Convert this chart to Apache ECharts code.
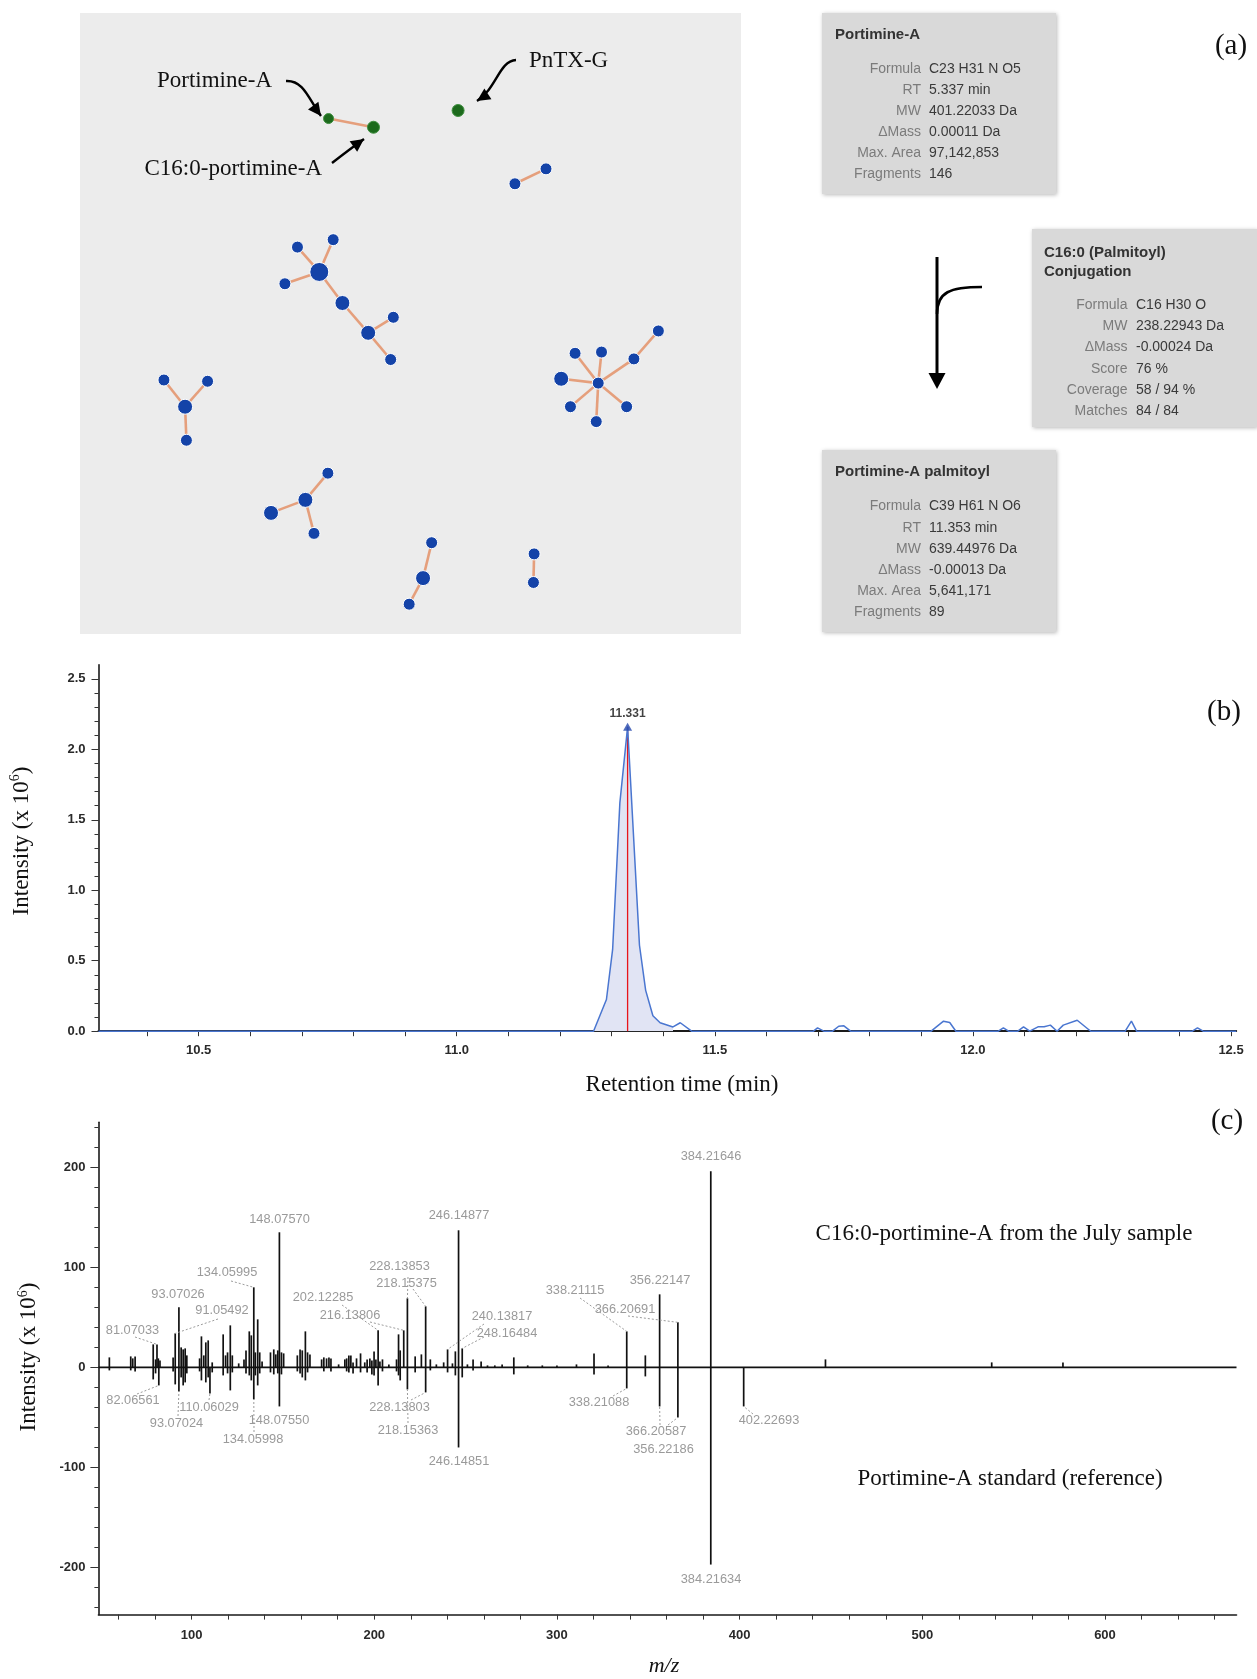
<!DOCTYPE html>
<html>
<head>
<meta charset="utf-8">
<script src="https://cdn.jsdelivr.net/npm/echarts@6.0.0/dist/echarts.min.js"></script>
<style>
html,body{margin:0;padding:0;background:#ffffff;}
#chart{width:1257px;height:1679px;}
</style>
</head>
<body>
<div id="chart"></div>
<script>
// ================= DATA =================
// ---- Panel (a): molecular network (layout units 0-100) ----
const nodeNames = ['Portimine-A','C16:0-portimine-A','PnTX-G','n3','n4','n5','n6','n7','n8','n9','n10','n11','n12','n13','n14','n15','n16','n17','n18','n19','n20','n21','n22','n23','n24','n25','n26','n27','n28','n29','n30','n31','n32','n33','n34'];
const nodeX = [37.6,44.4,57.2,65.8,70.5,36.2,32.9,38.3,31.0,39.7,43.6,47.4,47.0,15.9,12.7,19.3,16.1,78.4,74.9,78.9,72.8,74.2,78.1,82.7,83.8,87.5,34.1,37.5,28.9,35.4,51.9,53.2,49.8,68.7,68.6];
const nodeY = [17.0,18.4,15.7,27.5,25.1,41.7,37.7,36.5,43.6,46.7,51.5,49.0,55.8,63.4,59.1,59.3,68.8,59.6,54.8,54.6,58.9,63.4,65.8,63.4,55.7,51.2,78.4,74.1,80.5,83.8,91.0,85.3,95.2,87.1,91.7];
const nodeWeight = [0,1,1,1,1,3,1,1,1,2,2,1,1,2,1,1,1,1,1,1,2,1,1,1,1,1,2,1,2,1,2,1,1,1,1];
const nodeClass = ['toxin','toxin','toxin'].concat(new Array(32).fill('other'));
const edgePairs = [[0,1],[3,4],[5,6],[5,7],[5,8],[5,9],[9,10],[10,11],[10,12],[13,14],[13,15],[13,16],[17,18],[17,19],[17,20],[17,21],[17,22],[17,23],[17,24],[24,25],[26,27],[26,28],[26,29],[30,31],[30,32],[33,34]];

const boxATitle = ['Portimine-A'];
const boxAKeys = ['Formula','RT','MW','\u0394Mass','Max. Area','Fragments'];
const boxAVals = ['C23 H31 N O5','5.337 min','401.22033 Da','0.00011 Da','97,142,853','146'];
const boxBTitle = ['C16:0 (Palmitoyl)','Conjugation'];
const boxBKeys = ['Formula','MW','\u0394Mass','Score','Coverage','Matches'];
const boxBVals = ['C16 H30 O','238.22943 Da','-0.00024 Da','76 %','58 / 94 %','84 / 84'];
const boxCTitle = ['Portimine-A palmitoyl'];
const boxCKeys = ['Formula','RT','MW','\u0394Mass','Max. Area','Fragments'];
const boxCVals = ['C39 H61 N O6','11.353 min','639.44976 Da','-0.00013 Da','5,641,171','89'];

// ---- Panel (b): extracted ion chromatogram ----
const rtMin = [10.306,11.265,11.290,11.302,11.316,11.331,11.354,11.366,11.380,11.394,11.419,11.433,11.455,11.691,11.699,11.711,11.728,11.740,11.750,11.763,11.919,11.943,11.955,11.967,12.049,12.059,12.069,12.087,12.098,12.110,12.126,12.138,12.150,12.163,12.175,12.202,12.224,12.228,12.295,12.307,12.317,12.425,12.435,12.446,12.51];
const rtIntensity = [0,0,0.225,0.58,1.62,2.16,0.61,0.29,0.11,0.06,0.03,0.06,0,0,0.024,0,0,0.035,0.038,0,0,0.071,0.062,0,0,0.024,0,0,0.031,0,0.031,0.031,0.043,0,0.043,0.078,0.012,0,0,0.071,0,0,0.024,0,0];
const peakStart = 11.265, peakEnd = 11.419;
const apexRT = 11.331, apexIntensity = 2.16;
const rtTickLabels = [10.5,11.0,11.5,12.0,12.5];
const chromYTickLabels = [0,0.5,1.0,1.5,2.0,2.5];

// ---- Panel (c): mirror MS/MS spectrum ----
const sampleMz = [55.0,66.7,67.8,69.1,79.0,80.3,81.07,81.8,82.7,89.9,91.05,93.07,94.3,95.4,96.5,97.4,104.4,105.4,106.7,107.8,109.1,111.3,117.3,118.6,119.7,121.2,122.3,125.8,128.7,129.8,131.6,132.7,134.06,134.9,136.2,137.3,138.6,143.2,145.0,146.1,147.2,148.08,149.2,150.4,157.9,159.4,160.6,162.3,163.5,164.8,171.2,172.4,173.9,175.2,176.3,180.5,183.9,184.9,186.1,187.2,188.4,190.3,192.5,194.8,196.1,197.6,198.7,199.9,200.9,202.12,203.1,204.5,208.0,212.2,213.3,214.2,216.14,218.15,222.4,225.8,228.14,230.7,234.0,238.0,240.14,242.8,244.4,246.15,248.16,251.0,254.1,258.5,262.0,266.0,270.0,276.4,284.0,292.0,300.0,310.7,320.3,328.0,338.21,348.4,356.22,366.21,384.22,447.0,538.0,577.0];
const sampleInt = [10,11,9,11,23,8,23,9,7,10,34,60,20,18,19,12,9,31,12,25,27,5,33,12,15,42,12,4,8,17,36,32,80,15,48,15,6,15,18,13,17,135,15,14,12,18,17,36,15,13,8,10,9,10,9,3,8,9,12,12,5,9,14,5,8,9,7,16,8,37,6,8,3,8,33,17,37,69,11,13,61,8,3,5,18,4,16,137,19,3,8,6,2,2,3,10,2,2,2,3,14,2,36,12,73,45,196,8,5,5];
const refMz = [55.0,66.7,69.1,79.0,80.3,82.07,89.9,91.05,93.07,94.3,95.4,96.5,97.4,104.4,105.4,107.8,109.1,110.06,111.3,117.3,119.7,121.2,122.3,129.8,131.6,132.7,134.06,134.9,136.2,137.3,143.2,145.0,147.2,148.08,149.2,157.9,159.4,160.6,162.3,163.5,172.4,176.3,184.9,186.1,188.4,192.5,196.1,198.7,199.9,202.12,204.5,212.2,213.3,214.2,218.15,222.4,228.14,230.7,240.14,244.4,246.15,248.16,254.1,276.4,320.3,338.21,348.4,356.22,366.21,384.22,402.23];
const refInt = [-3,-3,-4,-12,-6,-18,-4,-17,-24,-10,-18,-15,-6,-4,-13,-15,-10,-26,-5,-8,-6,-23,-5,-6,-8,-13,-32,-8,-18,-6,-5,-7,-6,-39,-7,-4,-6,-10,-13,-5,-4,-4,-4,-5,-6,-5,-5,-7,-8,-18,-4,-4,-8,-13,-22,-5,-25,-3,-5,-8,-80,-10,-3,-7,-7,-21,-9,-39,-50,-197,-39];
const mzTickLabels = [100,200,300,400,500,600];
const specYTickLabels = [-200,-100,0,100,200];
const sampleAnnot = ['384.21646','148.07570','246.14877','134.05995','93.07026','91.05492','81.07033','202.12285','216.13806','228.13853','218.15375','240.13817','248.16484','338.21115','366.20691','356.22147'];
const refAnnot = ['384.21634','402.22693','338.21088','366.20587','356.22186','246.14851','228.13803','218.15363','148.07550','134.05998','110.06029','93.07024','82.06561'];

// ================= LAYOUT / STYLE =================
const SERIF = '"Liberation Serif","Times New Roman",serif';
const SANS = '"Liberation Sans",Arial,sans-serif';
const NODE_SIZE = [10, 12, 15, 19];
const RT_MIN = 10.306, RT_MAX = 12.51, CH_Y_MAX = 2.6;
const MZ_MIN = 49, MZ_MAX = 672, SP_Y_MIN = -247, SP_Y_MAX = 245;
// label placement [labelX, labelY, leaderStartX, leaderStartY] in px
const sampleAnnotLayout = [
  [711,1156,null,null],[279.5,1219,null,null],[459,1215.5,null,null],
  [227,1272.5,231,1281],[178,1294,null,null],[222,1310.5,218,1319],
  [132.5,1330,135,1337],[323,1297,342,1305],[350,1315,370,1322],
  [399.5,1266,413,1289],[406.5,1283,408,1277],[502,1316.5,484,1324],
  [507,1333,484,1337],[575,1290,580,1298],[625,1309,628,1316],[660,1280.5,null,null]
];
const refAnnotLayout = [
  [711,1579,null,null],[769,1420.5,753,1414],[599,1402,613,1396],
  [656,1431,668,1425],[663.5,1449,660,1425],[459,1461.5,null,null],
  [399.5,1407,411,1400],[408,1430,408,1423],[279,1420.5,null,null],
  [253,1439.5,254,1432],[209,1407,209,1400],[176.5,1423,178,1416],[133,1400,137,1394]
];

function rangeSteps(a, b, step) {
  const out = []; const n = Math.round((b - a) / step);
  for (let i = 0; i <= n; i++) out.push(Math.round((a + i * step) * 1000) / 1000);
  return out;
}
const rtTicks = rangeSteps(10.4, 12.5, 0.1);
const chromYTicks = rangeSteps(0, 2.5, 0.1);
const mzTicks = rangeSteps(60, 660, 20);
const specYTicks = rangeSteps(-240, 240, 20);

const axisLineStyle = {color:'#1a1a1a', width:1.6};
const tickLabelStyle = {color:'#2a2a2a', fontSize:13, fontFamily:SANS, fontWeight:'bold'};

const chart = echarts.init(document.getElementById('chart'), null, {renderer:'canvas'});

const peakIdx = rtMin.map((t,i)=>i).filter(i => rtMin[i] >= peakStart && rtMin[i] <= peakEnd);

const option = {
  animation:false,
  backgroundColor:'#ffffff',
  grid:[
    {left:80, top:13, width:661, height:621, show:true, backgroundColor:'#ececec', borderWidth:0},
    {left:98.5, top:664.8, width:1137.7, height:366.4},
    {left:98.4, top:1122.2, width:1138.1, height:492.4}
  ],
  xAxis:[
    {gridIndex:0, type:'value', min:0, max:100, show:false},
    {gridIndex:1, type:'value', min:RT_MIN, max:RT_MAX, position:'bottom',
      axisLine:{show:true, onZero:false, lineStyle:{color:'#1a1a1a', width:2}},
      axisTick:{show:true, customValues:rtTicks, length:5, lineStyle:{color:'#333', width:1}},
      axisLabel:Object.assign({customValues:rtTickLabels, margin:13, formatter:v=>Number(v).toFixed(1)}, tickLabelStyle),
      splitLine:{show:false}},
    {gridIndex:2, type:'value', min:MZ_MIN, max:MZ_MAX, position:'bottom',
      axisLine:{show:true, onZero:false, lineStyle:axisLineStyle},
      axisTick:{show:true, customValues:mzTicks, length:5, lineStyle:{color:'#333', width:1}},
      axisLabel:Object.assign({customValues:mzTickLabels, margin:14, formatter:v=>String(v)}, tickLabelStyle),
      splitLine:{show:false}}
  ],
  yAxis:[
    {gridIndex:0, type:'value', min:0, max:100, inverse:true, show:false},
    {gridIndex:1, type:'value', min:0, max:CH_Y_MAX, position:'left',
      axisLine:{show:true, onZero:false, lineStyle:axisLineStyle},
      axisTick:{show:true, customValues:chromYTicks, length:4, lineStyle:{color:'#333', width:1}},
      axisLabel:Object.assign({customValues:chromYTickLabels, margin:13, formatter:v=>Number(v).toFixed(1)}, tickLabelStyle),
      splitLine:{show:false}},
    {gridIndex:1, type:'value', min:0, max:CH_Y_MAX, position:'left', offset:0,
      axisLine:{show:false, onZero:false}, axisLabel:{show:false}, splitLine:{show:false},
      axisTick:{show:true, customValues:chromYTickLabels, length:7, lineStyle:{color:'#333', width:1}}},
    {gridIndex:2, type:'value', min:SP_Y_MIN, max:SP_Y_MAX, position:'left',
      axisLine:{show:true, onZero:false, lineStyle:axisLineStyle},
      axisTick:{show:true, customValues:specYTicks, length:4, lineStyle:{color:'#333', width:1}},
      axisLabel:Object.assign({customValues:specYTickLabels, margin:13, formatter:v=>String(v)}, tickLabelStyle),
      splitLine:{show:false}},
    {gridIndex:2, type:'value', min:SP_Y_MIN, max:SP_Y_MAX, position:'left', offset:0,
      axisLine:{show:false, onZero:false}, axisLabel:{show:false}, splitLine:{show:false},
      axisTick:{show:true, customValues:specYTickLabels, length:8, lineStyle:{color:'#333', width:1}}}
  ],
  series:[
    { // 0 network
      type:'graph', coordinateSystem:'cartesian2d', xAxisIndex:0, yAxisIndex:0, silent:true, z:3,
      data: nodeNames.map((n,i)=>({
        name:n, value:[nodeX[i], nodeY[i]], symbolSize:NODE_SIZE[nodeWeight[i]],
        itemStyle:{color: nodeClass[i]==='toxin' ? '#1c6a1c' : '#1443a8', borderColor: nodeClass[i]==='toxin' ? '#3f8f3f' : '#ffffff', borderWidth:1}
      })),
      links: edgePairs.map(p=>({source:nodeNames[p[0]], target:nodeNames[p[1]]})),
      lineStyle:{color:'#e59f7c', width:2.6, opacity:1, curveness:0},
      label:{show:false}, emphasis:{disabled:true}
    },
    { // 1 peak fill
      type:'line', xAxisIndex:1, yAxisIndex:1, silent:true, showSymbol:false, symbol:'none',
      data: peakIdx.map(i=>[rtMin[i], rtIntensity[i]]),
      lineStyle:{width:0, opacity:0}, areaStyle:{color:'#e1e4f4', opacity:1}, z:1
    },
    { // 2 apex marker line
      type:'line', xAxisIndex:1, yAxisIndex:1, silent:true, showSymbol:false, symbol:'none',
      data:[[apexRT,0],[apexRT,apexIntensity]],
      lineStyle:{color:'#e8141b', width:1.3}, z:2
    },
    { // 3 trace
      type:'line', xAxisIndex:1, yAxisIndex:1, silent:true, showSymbol:false, symbol:'none',
      data: rtMin.map((t,i)=>[t, rtIntensity[i]]),
      lineStyle:{color:'#4a76d0', width:1.5}, z:3
    },
    { // 4 apex label
      type:'scatter', xAxisIndex:1, yAxisIndex:1, silent:true,
      data:[[apexRT, apexIntensity]], symbol:'triangle', symbolSize:[9,8],
      itemStyle:{color:'#2548ad'},
      label:{show:true, position:'top', distance:3, formatter:String(apexRT.toFixed(3)), color:'#111', fontSize:12, fontWeight:'bold', fontFamily:SANS},
      z:4
    },
    { // 5 spectrum zero line
      type:'line', xAxisIndex:2, yAxisIndex:3, silent:true, showSymbol:false, symbol:'none',
      data:[[MZ_MIN,0],[MZ_MAX,0]], lineStyle:{color:'#111', width:1.6}, z:2
    },
    { // 6 sample spectrum (up)
      type:'custom', xAxisIndex:2, yAxisIndex:3, silent:true, z:3,
      data: sampleMz.map((m,i)=>[m, sampleInt[i]]),
      encode:{x:0, y:1},
      renderItem:(params, api)=>{
        const a = api.coord([api.value(0), 0]); const b = api.coord([api.value(0), api.value(1)]);
        return {type:'line', shape:{x1:a[0], y1:a[1], x2:b[0], y2:b[1]}, style:{stroke:'#111', lineWidth:1.7}};
      }
    },
    { // 7 reference spectrum (down)
      type:'custom', xAxisIndex:2, yAxisIndex:3, silent:true, z:3,
      data: refMz.map((m,i)=>[m, refInt[i]]),
      encode:{x:0, y:1},
      renderItem:(params, api)=>{
        const a = api.coord([api.value(0), 0]); const b = api.coord([api.value(0), api.value(1)]);
        return {type:'line', shape:{x1:a[0], y1:a[1], x2:b[0], y2:b[1]}, style:{stroke:'#111', lineWidth:1.7}};
      }
    }
  ]
};
chart.setOption(option);

// ================= GRAPHICS (annotations, boxes) =================
const G = [];
function txt(x, y, text, o) {
  o = o || {};
  G.push({type:'text', x:x, y:y, rotation:o.rotation||0, z:o.z||50, silent:true,
    style:{text:text, fill:o.fill||'#111', fontSize:o.size||14, fontFamily:o.family||SANS,
      fontWeight:o.weight||'normal', fontStyle:o.style||'normal',
      align:o.align||'center', verticalAlign:o.valign||'middle',
      textAlign:o.align||'center', textVerticalAlign:o.valign||'middle', rich:o.rich}});
}
function head(tip, from, L, W) {
  const dx = tip[0]-from[0], dy = tip[1]-from[1], d = Math.hypot(dx,dy), ux = dx/d, uy = dy/d;
  const bx = tip[0]-ux*L, by = tip[1]-uy*L;
  G.push({type:'polygon', z:50, silent:true, shape:{points:[[tip[0],tip[1]],[bx-uy*W, by+ux*W],[bx+uy*W, by-ux*W]]}, style:{fill:'#000'}});
}
function curve(p0, c1, c2, p1, w) {
  G.push({type:'bezierCurve', z:49, silent:true, shape:{x1:p0[0], y1:p0[1], cpx1:c1[0], cpy1:c1[1], cpx2:c2[0], cpy2:c2[1], x2:p1[0], y2:p1[1]},
    style:{stroke:'#000', lineWidth:w||2.5, fill:null}});
}
function arrow(p0, c1, c2, tip) {
  curve(p0, c1, c2, tip, 2.4);
  head(tip, c2, 13, 6.5);
}
function infoBox(x, y, w, h, titleX, titleYs, titles, keys, vals, keyRight, valLeft, row0, step) {
  G.push({type:'rect', z:40, silent:true, shape:{x:x, y:y, width:w, height:h},
    style:{fill:'#d9d9d9', shadowBlur:4, shadowColor:'rgba(0,0,0,0.28)', shadowOffsetX:1, shadowOffsetY:1}});
  titles.forEach((t,i)=>txt(titleX, titleYs[i], t, {align:'left', size:15, weight:'bold', fill:'#333'}));
  keys.forEach((k,i)=>{
    txt(keyRight, row0 + i*step, k, {align:'right', size:14, fill:'#7b7b7b'});
    txt(valLeft, row0 + i*step, vals[i], {align:'left', size:14, fill:'#3a3a3a'});
  });
}

// panel letters
txt(1231, 46, '(a)', {family:SERIF, size:29});
txt(1224, 712, '(b)', {family:SERIF, size:29});
txt(1227, 1121, '(c)', {family:SERIF, size:29});

// panel (a) annotations
txt(157, 81, 'Portimine-A', {family:SERIF, size:23, align:'left'});
txt(529, 61, 'PnTX-G', {family:SERIF, size:23, align:'left'});
txt(144.5, 169, 'C16:0-portimine-A', {family:SERIF, size:23, align:'left'});
arrow([286,81],[304,80],[309,100],[321,116]);
arrow([516,60],[499,61],[497,88],[477,101]);
arrow([332,163],[341,156],[350,149],[364,139]);

// info boxes
infoBox(822, 13, 234, 181, 835, [35], boxATitle, boxAKeys, boxAVals, 921, 929, 69.6, 20.98);
infoBox(1032, 229, 225, 198, 1044, [253,272], boxBTitle, boxBKeys, boxBVals, 1127.5, 1136, 305.2, 21.2);
infoBox(822, 450, 234, 182, 835, [472], boxCTitle, boxCKeys, boxCVals, 921, 929, 506.5, 21.2);

// conjugation flow arrow
G.push({type:'line', z:49, silent:true, shape:{x1:937, y1:257, x2:937, y2:376}, style:{stroke:'#000', lineWidth:3}});
head([937,389],[937,370],16,8.5);
curve([937,314],[937,292],[950,287],[982,287],2.6);

// axis titles
const yTitleRich = {
  a:{fontSize:23, fontFamily:SERIF, fill:'#111', color:'#111', lineHeight:26},
  s:{fontSize:14, fontFamily:SERIF, fill:'#111', color:'#111', lineHeight:26, verticalAlign:'top'}
};
txt(21.5, 841, '{a|Intensity (x 10}{s|6}{a|)}', {rotation:Math.PI/2, rich:yTitleRich});
txt(682, 1085, 'Retention time (min)', {family:SERIF, size:23});
txt(29, 1357, '{a|Intensity (x 10}{s|6}{a|)}', {rotation:Math.PI/2, rich:yTitleRich});
txt(664, 1666, 'm/z', {family:SERIF, size:22, style:'italic'});

// spectrum captions
txt(1004, 1233.5, 'C16:0-portimine-A from the July sample', {family:SERIF, size:23});
txt(1010, 1479, 'Portimine-A standard (reference)', {family:SERIF, size:23});

// peak annotations
function nearestIdx(arr, v) {
  let best = 0; arr.forEach((m,i)=>{ if (Math.abs(m-v) < Math.abs(arr[best]-v)) best = i; }); return best;
}
function annotate(texts, layout, mzArr, intArr, seriesIndex) {
  texts.forEach((t,i)=>{
    const L = layout[i];
    if (L[2] !== null) {
      const k = nearestIdx(mzArr, parseFloat(t));
      const tip = chart.convertToPixel({seriesIndex:seriesIndex}, [mzArr[k], intArr[k]]);
      G.push({type:'line', z:45, silent:true, shape:{x1:L[2], y1:L[3], x2:tip[0], y2:tip[1]},
        style:{stroke:'#9c9c9c', lineWidth:1, lineDash:[2,2]}});
    }
    txt(L[0], L[1], t, {size:12.8, fill:'#9a9a9a'});
  });
}
annotate(sampleAnnot, sampleAnnotLayout, sampleMz, sampleInt, 6);
annotate(refAnnot, refAnnotLayout, refMz, refInt, 7);

chart.setOption({graphic:{elements:G}});
</script>
</body>
</html>
